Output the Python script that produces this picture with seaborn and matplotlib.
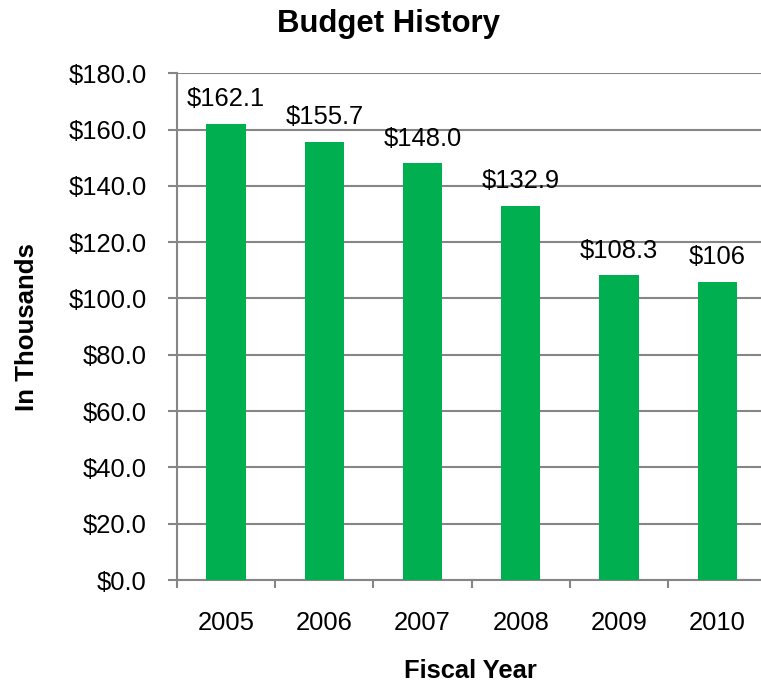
import matplotlib
matplotlib.use("Agg")
import matplotlib.pyplot as plt
import seaborn as sns
import pandas as pd
import numpy as np
from matplotlib.ticker import FixedLocator, FuncFormatter

years = ["2005", "2006", "2007", "2008", "2009", "2010"]
values = [162.1, 155.7, 148.0, 132.9, 108.3, 106.0]
labels = ["$162.1", "$155.7", "$148.0", "$132.9", "$108.3", "$106"]

sns.set_theme(style="white")
plt.rcParams["font.family"] = ["Liberation Sans", "DejaVu Sans"]
plt.rcParams["text.color"] = "black"
plt.rcParams["axes.labelcolor"] = "black"

df = pd.DataFrame({"year": years, "value": values})

fig = plt.figure(figsize=(7.61, 6.84), dpi=100)
ax = fig.add_axes([0.2326, 0.152, 0.7745, 0.741])

sns.barplot(data=df, x="year", y="value", color="#00B050", width=0.40,
            saturation=1, linewidth=0, ax=ax, zorder=3)

ax.set_ylim(0, 180)
ax.set_xlim(-0.5, len(years) - 0.5)
ax.set_yticks(np.arange(0, 181, 20))
ax.yaxis.set_major_formatter(FuncFormatter(lambda v, p: f"${v:.1f}"))
ax.grid(axis="y", color="#868686", linewidth=1.5, zorder=0)
ax.set_axisbelow(True)

gray = "#868686"
for s in ["top", "right"]:
    ax.spines[s].set_visible(False)
for s in ["left", "bottom"]:
    ax.spines[s].set_color(gray)
    ax.spines[s].set_linewidth(1.5)

ax.tick_params(axis="y", left=True, length=6.5, width=1.5, color=gray,
               labelsize=18.4, pad=15.5, labelcolor="black")
ax.tick_params(axis="x", which="major", bottom=False, length=0,
               labelsize=18.4, pad=22, labelcolor="black")
ax.xaxis.set_minor_locator(FixedLocator(np.arange(-0.5, len(years), 1)))
ax.tick_params(axis="x", which="minor", bottom=True, length=6, width=1.5,
               color=gray)

ax.bar_label(ax.containers[0], labels=labels, padding=9, fontsize=18.4,
             color="black")

ax.set_xlabel("")
ax.set_ylabel("")
fig.text(470.5 / 761, 1 - 678 / 684, "Fiscal Year", fontsize=18.4,
         fontweight="bold", ha="center", va="baseline", color="black")
fig.text(27 / 761, 1 - 327 / 684, "In Thousands", fontsize=18.6,
         fontweight="bold", ha="center", va="center", rotation=90,
         color="black")
fig.text(388.5 / 761, 1 - 32 / 684, "Budget History", fontsize=22.4,
         fontweight="bold", ha="center", va="baseline", color="black")

fig.savefig("out.png", dpi=100)
